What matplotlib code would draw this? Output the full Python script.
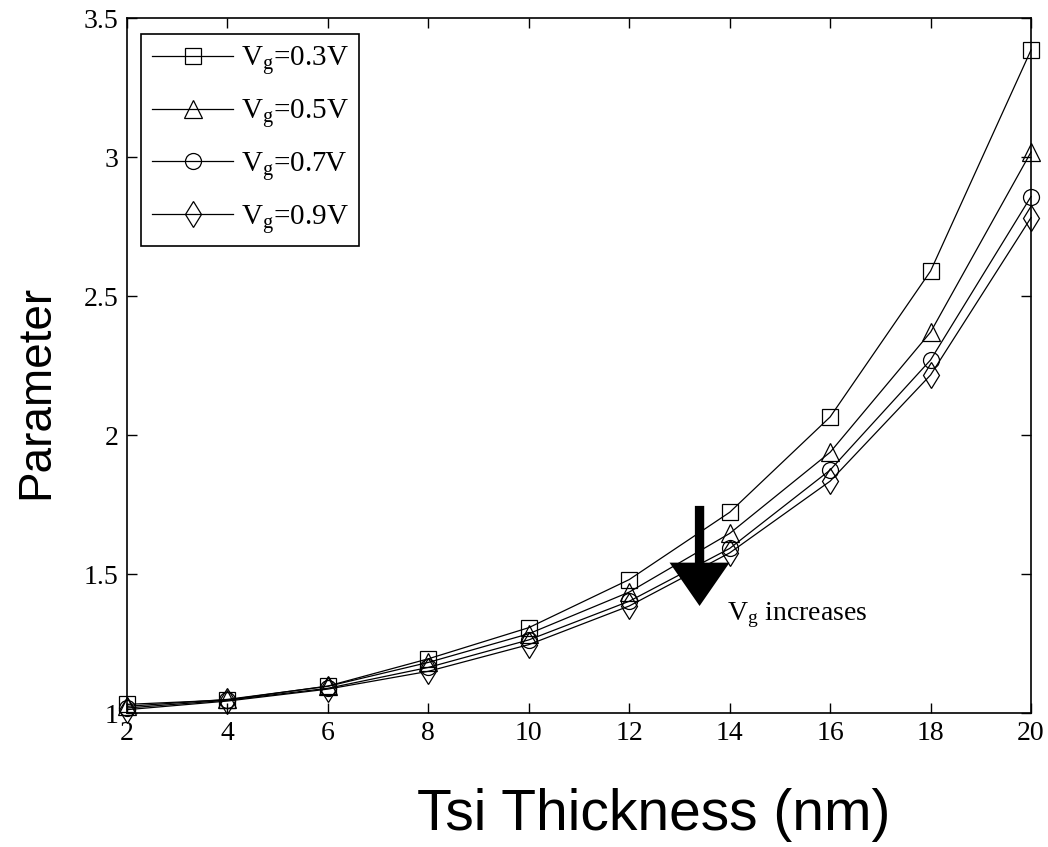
import numpy as np
import matplotlib
matplotlib.use("Agg")
import matplotlib.pyplot as plt
from matplotlib.ticker import FormatStrFormatter

# data
tsi = [2, 4, 6, 8, 10, 12, 14, 16, 18, 20]
vg_03 = [1.031, 1.047, 1.097, 1.195, 1.307, 1.480, 1.722, 2.065, 2.590, 3.385]
vg_05 = [1.024, 1.049, 1.096, 1.182, 1.285, 1.435, 1.646, 1.938, 2.370, 3.018]
vg_07 = [1.018, 1.046, 1.089, 1.164, 1.263, 1.402, 1.592, 1.874, 2.270, 2.858]
vg_09 = [1.012, 1.043, 1.086, 1.150, 1.246, 1.385, 1.576, 1.834, 2.216, 2.782]

labels = ["0.3", "0.5", "0.7", "0.9"]
series = [vg_03, vg_05, vg_07, vg_09]
markers = ["s", "^", "o", "d"]
msizes = [12, 13, 11.5, 13]

plt.rcParams["font.family"] = ["Liberation Serif", "DejaVu Serif"]
plt.rcParams["mathtext.fontset"] = "custom"
plt.rcParams["mathtext.rm"] = "Liberation Serif"

fig = plt.figure(figsize=(10.48, 8.47), dpi=100)
ax = fig.add_axes([0.1212, 0.1582, 0.8626, 0.8205])

for vals, lab, m, ms in zip(series, labels, markers, msizes):
    ax.plot(tsi, vals, color="black", lw=0.9, marker=m, markersize=ms,
            markerfacecolor="none", markeredgecolor="black", markeredgewidth=0.9,
            label=r"$\mathrm{V_g}$=" + lab + "V", clip_on=False, zorder=3)

ax.set_xlim(2, 20)
ax.set_ylim(1, 3.5)
ax.set_xticks(np.arange(2, 21, 2))
ax.set_yticks(np.arange(1, 3.51, 0.5))
ax.yaxis.set_major_formatter(FormatStrFormatter("%g"))
ax.tick_params(direction="in", top=True, right=True, length=7, width=1,
               labelsize=20, pad=6)
for s in ax.spines.values():
    s.set_linewidth(1.2)

leg = ax.legend(loc="upper left", bbox_to_anchor=(0.016, 0.977), fontsize=21,
                handlelength=2.8, handletextpad=0.25, labelspacing=0.68,
                borderpad=0.35, fancybox=False, framealpha=1, edgecolor="black",
                borderaxespad=0)
leg.get_frame().set_linewidth(1.2)
leg.set_zorder(5)

# arrow showing direction of increasing Vg
ax.annotate("", xy=(13.4, 1.385), xytext=(13.4, 1.745),
            arrowprops=dict(arrowstyle="simple,head_length=1.3,head_width=1.8,tail_width=0.28",
                            mutation_scale=24, color="black", lw=0,
                            shrinkA=0, shrinkB=0))
ax.text(13.95, 1.335, r"$\mathrm{V_g}$ increases", fontsize=20)

fig.text(654 / 1048, 1 - 815 / 847, "Tsi Thickness (nm)", ha="center", va="center",
         fontsize=41, family="Liberation Sans")
fig.text(36 / 1048, 1 - 392 / 847, "Parameter", ha="center", va="center",
         rotation=90, fontsize=33, family="Liberation Sans")

fig.savefig("out.png", dpi=100)
